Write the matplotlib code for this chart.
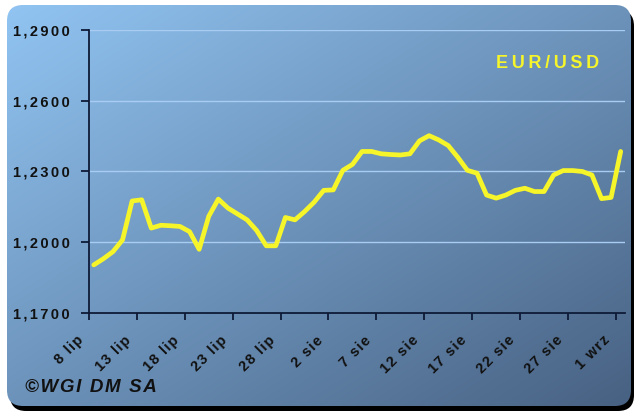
import numpy as np
import matplotlib.pyplot as plt
from matplotlib.patches import FancyBboxPatch
import matplotlib.transforms as mtransforms

# ---- data ----
date_labels = ['8 lip', '13 lip', '18 lip', '23 lip', '28 lip', '2 sie',
               '7 sie', '12 sie', '17 sie', '22 sie', '27 sie', '1 wrz']
eurusd = [1.1904, 1.1930, 1.1960, 1.2010, 1.2175, 1.2180, 1.2060, 1.2072,
          1.2070, 1.2067, 1.2045, 1.1970, 1.2110, 1.2183, 1.2145, 1.2120,
          1.2095, 1.2050, 1.1985, 1.1985, 1.2105, 1.2095, 1.2130, 1.2170,
          1.2220, 1.2222, 1.2305, 1.2330, 1.2385, 1.2385, 1.2375, 1.2372,
          1.2370, 1.2375, 1.2430, 1.2452, 1.2434, 1.2410, 1.2360, 1.2305,
          1.2293, 1.2200, 1.2187, 1.2200, 1.2220, 1.2229, 1.2215, 1.2215,
          1.2285, 1.2304, 1.2304, 1.2300, 1.2285, 1.2185, 1.2190, 1.2385]
y_ticks = [1.17, 1.20, 1.23, 1.26, 1.29]
y_tick_labels = ['1,1700', '1,2000', '1,2300', '1,2600', '1,2900']
series_name = 'EUR/USD'
credit = '©WGI DM SA'

YELLOW = '#f6f52a'
NAVY = '#0d1a36'
FONT = ['Liberation Sans', 'DejaVu Sans']


def spaced(s, sep='\u2006'):
    return sep.join(s)


W, H = 640, 417
fig = plt.figure(figsize=(W / 100, H / 100), dpi=100)
fig.patch.set_facecolor('white')

# ---- background panel with shadow and gradient ----
bg = fig.add_axes([0, 0, 1, 1])
bg.set_xlim(0, W)
bg.set_ylim(H, 0)
bg.axis('off')

px0, py0, pw, ph = 7, 5, 624, 401
shadow = FancyBboxPatch((px0 + 3, py0 + 5), pw, ph,
                        boxstyle='round,pad=0,rounding_size=16',
                        fc='black', ec='none')
bg.add_patch(shadow)
panel = FancyBboxPatch((px0, py0), pw, ph,
                       boxstyle='round,pad=0,rounding_size=16',
                       fc='none', ec='none')
bg.add_patch(panel)

nx, ny = 320, 200
u = np.linspace(0, 1, nx)[None, :]
v = np.linspace(0, 1, ny)[:, None]
t = np.clip(0.5 * u + 0.5 * v, 0, 1)
c0 = np.array([0.57, 0.77, 0.95])
c1 = np.array([0.28, 0.38, 0.51])
grad = c0[None, None, :] * (1 - t[..., None]) + c1[None, None, :] * t[..., None]
im = bg.imshow(grad, extent=(px0, px0 + pw, py0 + ph, py0), aspect='auto',
               interpolation='bilinear', zorder=1)
im.set_clip_path(panel)

# ---- main axes ----
ax = fig.add_axes([89 / W, (H - 313) / H, 536 / W, 283 / H])
ax.set_facecolor('none')

x = np.arange(len(eurusd))
ax.plot(x, eurusd, color=YELLOW, lw=3.4, solid_joinstyle='round',
        solid_capstyle='round', zorder=3)

ax.set_xlim(-0.5, 55.45)
ax.set_ylim(1.17, 1.29)

ax.set_yticks(y_ticks)
ax.set_yticklabels([spaced(s) for s in y_tick_labels], fontsize=10.5,
                   fontweight='bold', family=FONT, color='#111111')
xt = [-0.5 + 5 * k for k in range(len(date_labels))]
ax.set_xticks(xt)
ax.set_xticklabels([])

# rotated date labels placed relative to each tick
off = mtransforms.ScaledTranslation(-8 / 100, -25 / 100, fig.dpi_scale_trans)
tr = ax.get_xaxis_transform() + off
for xv, lab in zip(xt, date_labels):
    ax.text(xv, 0, spaced(lab, '\u200a'), transform=tr, rotation=45,
            rotation_mode='anchor', ha='right', va='center',
            fontsize=10.5, fontweight='bold', family=FONT, color='#111111',
            clip_on=False)

ax.tick_params(axis='y', direction='out', length=6, width=1.3, color=NAVY,
               pad=8)
ax.tick_params(axis='x', direction='out', length=5, width=1.3, color=NAVY)

for s in ['top', 'right']:
    ax.spines[s].set_visible(False)
for s in ['left', 'bottom']:
    ax.spines[s].set_color(NAVY)
    ax.spines[s].set_linewidth(1.3)

ax.yaxis.grid(True, color='#a9cdf2', lw=1.0, zorder=1)
ax.set_axisbelow(True)

# ---- texts ----
fig.text(548 / W, 1 - 63 / H, spaced(series_name, '\u2009'), color=YELLOW,
         fontsize=13, fontweight='bold', family=FONT,
         ha='center', va='center')
fig.text(25 / W, 1 - 388 / H, spaced(credit, '\u200a'), color='#111111',
         fontsize=13.5, fontweight='bold', fontstyle='italic', family=FONT,
         ha='left', va='center')

fig.savefig('out.png', dpi=100, facecolor='white')
